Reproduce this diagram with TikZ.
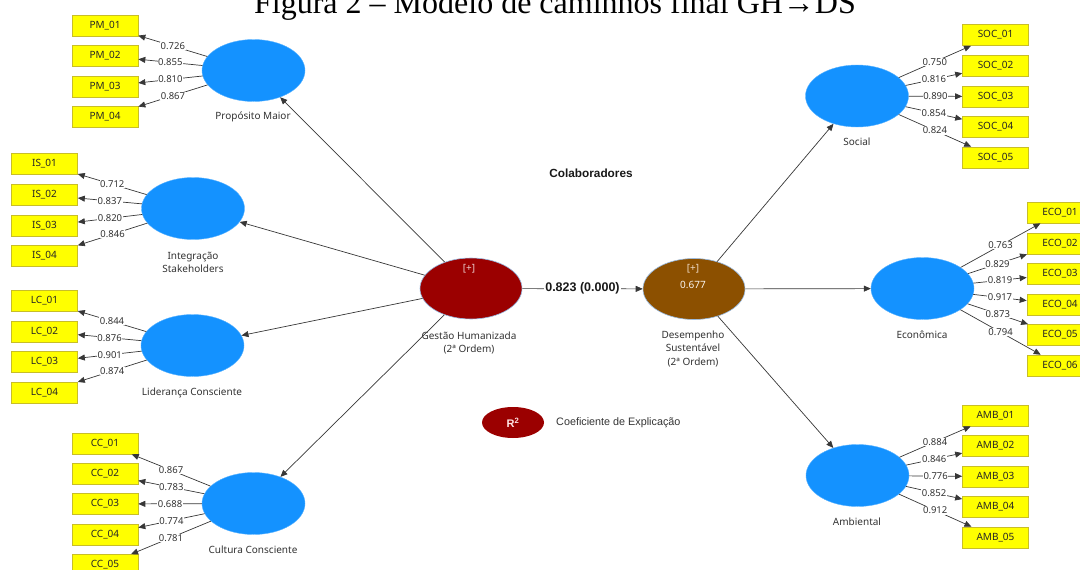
\documentclass[tikz,border=0pt]{standalone}
\usepackage{fontspec}
\setmainfont{Noto Sans}
\newfontfamily\arialfont{Liberation Sans}
\newfontfamily\timesfont{Liberation Serif}
\usetikzlibrary{shapes.geometric,arrows.meta}

\definecolor{lvblue}{RGB}{20,146,255}
\definecolor{ghred}{RGB}{155,0,0}
\definecolor{dsbrown}{RGB}{140,80,0}
\definecolor{indyellow}{RGB}{255,255,0}
\definecolor{indborder}{RGB}{200,190,40}
\definecolor{linegray}{RGB}{55,55,55}
\definecolor{captext}{RGB}{50,50,50}

\tikzset{
  ind/.style={rectangle, fill=indyellow, draw=indborder, line width=0.6pt,
    minimum width=66pt, minimum height=21pt, inner sep=0pt,
    text=black!85, font=\fontsize{10}{12}\selectfont},
  lv/.style={ellipse, fill=lvblue, draw=lvblue!70!white, line width=0.4pt,
    minimum width=103pt, minimum height=62pt, inner sep=0pt},
  hoc/.style={ellipse, draw={rgb,255:red,150;green,185;blue,225}, line width=0.6pt,
    minimum width=102pt, minimum height=61pt, inner sep=0pt,
    text=white, align=center, font=\fontsize{10}{15}\selectfont},
  captxt/.style={text=captext, align=center, font=\fontsize{10}{13.5}\selectfont},
  lbl/.style={fill=white, inner sep=0.6pt, text=captext,
    font=\fontsize{9.5}{11}\selectfont},
  loadline/.style={draw=linegray, line width=0.7pt,
    -{Triangle[length=7pt,width=6pt]}},
  strline/.style={draw=linegray, line width=0.7pt,
    -{Triangle[length=7pt,width=6pt]}}
}

\begin{document}
\begin{tikzpicture}[x=1pt,y=-1pt]
\useasboundingbox (0,0) rectangle (1080,570);

% heading, partly above the page edge
\node[anchor=base, inner sep=0pt, font=\timesfont\fontsize{32}{36}\selectfont]
  (title) at (555,13) {Figura 2 – Modelo de caminhos final GH→DS};

% second-order constructs
\node[hoc, fill=ghred] (gh) at (471,288.5) {};
\node[text={rgb,255:red,235;green,205;blue,205}, font=\fontsize{10}{12}\selectfont] (ghplus) at (469,269) {[+]};
\node[captxt, anchor=north] (ghcap) at (469,328) {Gestão Humanizada\\(2ª Ordem)};

\node[hoc, fill=dsbrown] (ds) at (694,289) {};
\node[text={rgb,255:red,240;green,220;blue,200}, font=\fontsize{10}{12}\selectfont] (dsplus) at (693,269) {[+]};
\node[text=white!92!brown, font=\fontsize{10}{12}\selectfont] (dsr2) at (693,285) {0.677};
\node[captxt, anchor=north] (dscap) at (693,327) {Desempenho\\Sustentável\\(2ª Ordem)};

% first-order constructs
\node[lv] (pm) at (253.5,70.5) {};
\node[captxt] (pmcap) at (253,117) {Propósito Maior};
\node[lv] (is) at (193,208.5) {};
\node[captxt] (iscap) at (193,262.5) {Integração\\Stakeholders};
\node[lv] (lc) at (192.5,345.5) {};
\node[captxt] (lccap) at (192,393) {Liderança Consciente};
\node[lv] (cc) at (253.5,503.5) {};
\node[captxt] (cccap) at (253,550) {Cultura Consciente};

\node[lv] (soc) at (857,96) {};
\node[captxt] (soccap) at (857,142) {Social};
\node[lv] (eco) at (922.5,288.5) {};
\node[captxt] (ecocap) at (922,335) {Econômica};
\node[lv] (amb) at (857.5,475.5) {};
\node[captxt] (ambcap) at (857,522) {Ambiental};

% structural paths
\draw[strline] (gh) -- (pm);
\draw[strline] (gh) -- (is);
\draw[strline] (gh) -- (lc);
\draw[strline] (gh) -- (cc);
\draw[strline] (ds) -- (soc);
\draw[strline] (ds) -- (eco);
\draw[strline] (ds) -- (amb);
\draw[strline] (gh) -- node[fill=white, inner sep=1pt, text=black!90,
  font=\arialfont\bfseries\fontsize{12.5}{14}\selectfont] (beta) {0.823 (0.000)} (ds);

% indicators and loadings
\foreach \i/\y/\v in {1/25.5/0.726, 2/56/0.855, 3/86.5/0.810, 4/117/0.867}{
  \node[ind] (pm\i) at (105,\y) {PM\_0\i};
  \draw[loadline] (pm) -- node[lbl] {\v} (pm\i);
}
\foreach \i/\y/\v in {1/164/0.712, 2/195/0.837, 3/226/0.820, 4/256/0.846}{
  \node[ind] (is\i) at (44.5,\y) {IS\_0\i};
  \draw[loadline] (is) -- node[lbl] {\v} (is\i);
}
\foreach \i/\y/\v in {1/301/0.844, 2/331.5/0.876, 3/362/0.901, 4/392.5/0.874}{
  \node[ind] (lc\i) at (44.5,\y) {LC\_0\i};
  \draw[loadline] (lc) -- node[lbl] {\v} (lc\i);
}
\foreach \i/\y/\v in {1/443.5/0.867, 2/474/0.783, 3/504/0.688, 4/534.5/0.774, 5/565/0.781}{
  \node[ind] (cc\i) at (105,\y) {CC\_0\i};
  \draw[loadline] (cc) -- node[lbl] {\v} (cc\i);
}
\foreach \i/\y/\v in {1/35/0.750, 2/66/0.816, 3/96.5/0.890, 4/126.5/0.854, 5/157.5/0.824}{
  \node[ind] (soc\i) at (995.5,\y) {SOC\_0\i};
  \draw[loadline] (soc) -- node[lbl] {\v} (soc\i);
}
\foreach \i/\y/\v in {1/212.5/0.763, 2/243.5/0.829, 3/274/0.819, 4/304.5/0.917, 5/335/0.873, 6/365.5/0.794}{
  \node[ind] (eco\i) at (1060,\y) {ECO\_0\i};
  \draw[loadline] (eco) -- node[lbl] {\v} (eco\i);
}
\foreach \i/\y/\v in {1/415.5/0.884, 2/446/0.846, 3/476.5/0.776, 4/506.5/0.852, 5/537.5/0.912}{
  \node[ind] (amb\i) at (995.5,\y) {AMB\_0\i};
  \draw[loadline] (amb) -- node[lbl] {\v} (amb\i);
}

% group heading and legend
\node[text=black!90, font=\arialfont\bfseries\fontsize{11.8}{13}\selectfont] (colab) at (591,173) {Colaboradores};
\node[ellipse, fill=ghred, minimum width=62pt, minimum height=31pt, inner sep=0pt,
  text=white!90!red, font=\arialfont\bfseries\fontsize{11}{12}\selectfont] (r2) at (513,422.5) {R\textsuperscript{2}};
\node[anchor=west, inner sep=0pt, text=black!80, font=\arialfont\fontsize{10.8}{12}\selectfont]
  (r2txt) at (556,423) {Coeficiente de Explicação};
\end{tikzpicture}
\end{document}
